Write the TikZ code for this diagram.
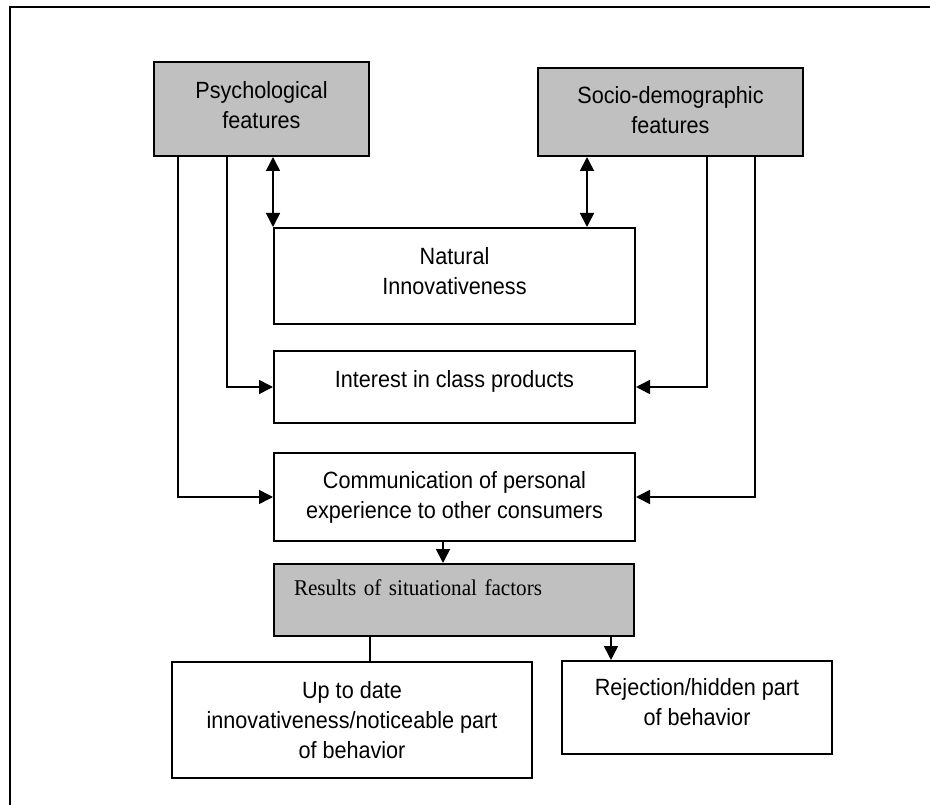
\documentclass[tikz,border=0pt]{standalone}
\usepackage{fontspec}
\setmainfont{Liberation Sans}[FakeStretch=0.92]
\newfontfamily\serifres{Liberation Serif}[FakeStretch=0.94]
\usetikzlibrary{arrows.meta}
\definecolor{boxgray}{HTML}{C0C0C0}
\newcommand\dep[1]{\rule[-#1]{0pt}{#1}}
\begin{document}
\begin{tikzpicture}[x=1pt,y=-1pt,
  box/.style={draw, line width=2pt, align=center, inner sep=0pt,
    font=\fontsize{23.5}{30}\selectfont},
  greybox/.style={box, fill=boxgray},
  conn/.style={line width=1.6pt},
  arr/.style={conn, -{Triangle[length=14pt,width=14pt]}},
  darr/.style={conn, {Triangle[length=14pt,width=14pt]}-{Triangle[length=14pt,width=14pt]}}]
\useasboundingbox (0,0) rectangle (930,805);
% frame
\draw[line width=2.5pt] (10,805) -- (10,7) -- (930,7);
% boxes
\node[greybox, minimum width=215pt, minimum height=94pt] (psych) at (261.5,109)
  {Psychological\\features\dep{9pt}};
\node[greybox, minimum width=265pt, minimum height=88pt] (socio) at (670.5,112)
  {Socio-demographic\\features\dep{4pt}};
\node[box, minimum width=361pt, minimum height=96pt] (nat) at (454.5,276)
  {Natural\\Innovativeness\dep{11pt}};
\node[box, minimum width=361pt, minimum height=72pt] (inter) at (454.5,387)
  {Interest in class products\dep{16pt}};
\node[box, minimum width=361pt, minimum height=88pt] (comm) at (454.5,497)
  {Communication of personal\\experience to other consumers};
\node[greybox, minimum width=360pt, minimum height=72pt, text width=320pt, align=left,
  font=\serifres\fontsize{22.5}{30}\selectfont] (res) at (454,600)
  {Results of situational factors\dep{25pt}};
\node[box, minimum width=360pt, minimum height=116pt] (up) at (352,720)
  {Up to date\\innovativeness/noticeable part\\of behavior};
\node[box, minimum width=270pt, minimum height=93pt] (rej) at (697,707.5)
  {Rejection/hidden part\\of behavior\dep{11pt}};
% helper x positions
\coordinate (xa) at (178,0);
\coordinate (xb) at (227,0);
\coordinate (xc) at (587,0);
\coordinate (xd) at (707,0);
\coordinate (xe) at (755,0);
\coordinate (xf) at (443,0);
\coordinate (xg) at (370,0);
\coordinate (xh) at (611,0);
% connectors
\draw[darr] (psych.south -| nat.north west) -- (nat.north west);
\draw[darr] (socio.south -| xc) -- (nat.north -| xc);
\draw[arr] (psych.south -| xb) |- (inter.west);
\draw[arr] (psych.south -| xa) |- (comm.west);
\draw[arr] (socio.south -| xd) |- (inter.east);
\draw[arr] (socio.south -| xe) |- (comm.east);
\draw[arr] (comm.south -| xf) -- (res.north -| xf);
\draw[conn] (res.south -| xg) -- (up.north -| xg);
\draw[arr] (res.south -| xh) -- (rej.north -| xh);
\end{tikzpicture}
\end{document}
